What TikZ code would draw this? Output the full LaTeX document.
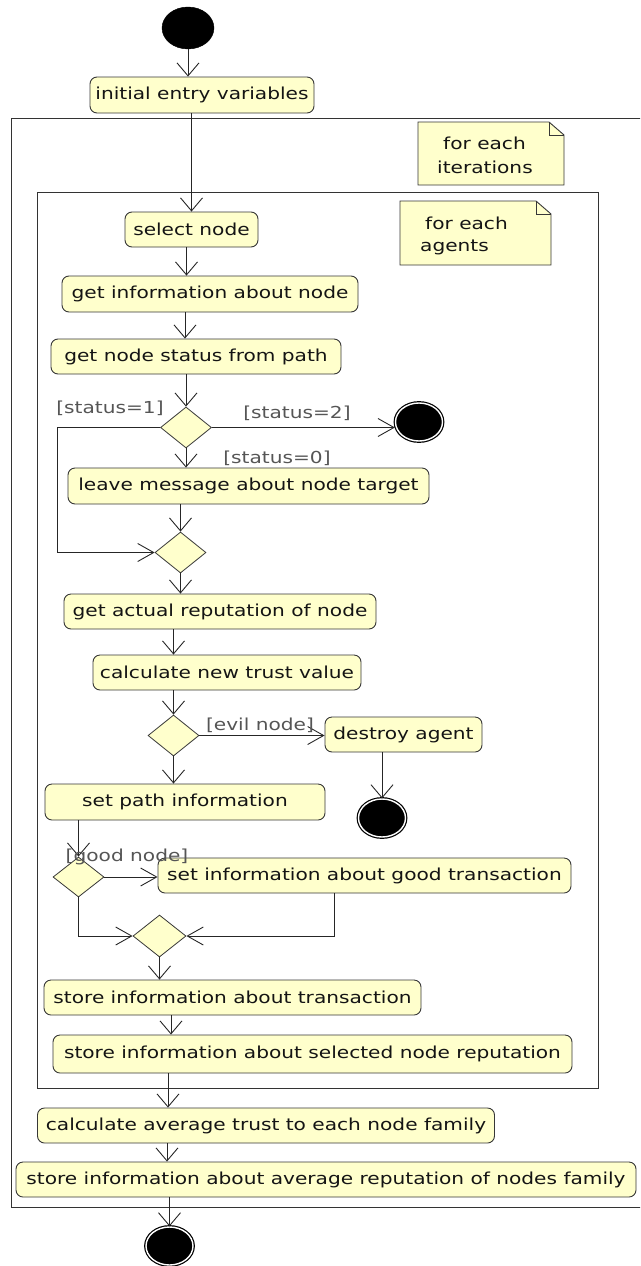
\documentclass[tikz,border=0pt]{standalone}
\usepackage{fontspec}
\setmainfont{DejaVu Sans}
\usetikzlibrary{arrows.meta,shapes.geometric,calc}
\definecolor{boxfill}{RGB}{255,255,204}
\definecolor{boxline}{RGB}{55,55,55}
\definecolor{guard}{RGB}{85,85,85}
\newcommand{\wtxt}[1]{\scalebox{1.22}[1]{#1}}
\begin{document}
\begin{tikzpicture}[x=1pt,y=-1pt,
  font=\fontsize{16.5}{20}\selectfont,
  act/.style={draw=boxline, fill=boxfill, rounded corners=7pt, line width=0.9pt, inner sep=0pt, text=black!92},
  dec/.style={diamond, draw=boxline, fill=boxfill, line width=0.8pt, inner sep=0pt, minimum width=51pt, minimum height=41pt},
  initnode/.style={ellipse, fill=black, draw=black, inner sep=0pt, minimum width=52pt, minimum height=42pt},
  finalnode/.style={ellipse, fill=black, draw=black, double=white, double distance=1.4pt, line width=1.2pt, inner sep=0pt, minimum width=47pt, minimum height=38pt},
  va/.style={draw=black!85, line width=0.9pt, -{Straight Barb[length=13pt,width=22pt]}},
  ha/.style={draw=black!85, line width=0.9pt, -{Straight Barb[length=16pt,width=18pt]}},
  guardlbl/.style={text=guard, inner sep=0pt},
  notetxt/.style={anchor=west, inner sep=0pt, text=black!92},
  frame/.style={draw=black!80, line width=1pt},
  note/.style={draw=boxline, fill=boxfill, line width=0.9pt}
]
\useasboundingbox (0,0) rectangle (640,1266);
\clip (0,0) rectangle (640,1266);

% frames
\draw[frame] (11.5,118) rectangle (700,1207);
\draw[frame] (37.5,192) rectangle (598,1088);

% notes
\draw[note] (418,122) -- (549,122) -- (564,135) -- (564,185) -- (418,185) -- cycle;
\draw[note, fill=none] (549,122) -- (549,135) -- (564,135);
\node[notetxt] (n1a) at (443,143) {\wtxt{for each}};
\node[notetxt] (n1b) at (437,167) {\wtxt{iterations}};
\draw[note] (400,201) -- (536,201) -- (551,214) -- (551,265) -- (400,265) -- cycle;
\draw[note, fill=none] (536,201) -- (536,214) -- (551,214);
\node[notetxt] (n2a) at (425,223) {\wtxt{for each}};
\node[notetxt] (n2b) at (420,247) {\wtxt{agents}};

% nodes
\node[initnode] (start) at (188,28) {};
\node[act, minimum width=224pt, minimum height=36pt] (init) at (202,95) {\wtxt{initial entry variables}};
\node[act, minimum width=133pt, minimum height=35pt] (B) at (191.5,229.5) {\wtxt{select node}};
\node[act, minimum width=296pt, minimum height=36pt] (C) at (210,294) {\wtxt{get information about node}};
\node[act, minimum width=290pt, minimum height=35pt] (D) at (196,356.5) {\wtxt{get node status from path}};
\node[dec] (Dec1) at (186,427.5) {};
\node[finalnode] (End1) at (419,422) {};
\node[act, minimum width=361pt, minimum height=36pt] (E) at (248.5,486) {\wtxt{leave message about node target}};
\node[dec] (Dec2) at (180.5,552.5) {};
\node[act, minimum width=312pt, minimum height=35pt] (F) at (220,611.5) {\wtxt{get actual reputation of node}};
\node[act, minimum width=268pt, minimum height=35pt] (G) at (227,672.5) {\wtxt{calculate new trust value}};
\node[dec] (Dec3) at (173.5,735.5) {};
\node[act, minimum width=157pt, minimum height=35pt] (H) at (403.5,734.5) {\wtxt{destroy agent}};
\node[finalnode] (End2) at (382,818) {};
\node[act, minimum width=280pt, minimum height=36pt] (I) at (185,802) {\wtxt{set path information}};
\node[dec, minimum height=40pt] (Dec4) at (78.5,877) {};
\node[act, minimum width=413pt, minimum height=35pt] (J) at (364.5,875.5) {\wtxt{set information about good transaction}};
\node[dec, minimum width=53pt, minimum height=42pt] (Dec5) at (159.5,936) {};
\node[act, minimum width=377pt, minimum height=35pt] (K) at (232.5,997.5) {\wtxt{store information about transaction}};
\node[act, minimum width=519pt, minimum height=38pt] (L) at (312.5,1054) {\wtxt{store information about selected node reputation}};
\node[act, minimum width=457pt, minimum height=35pt] (M) at (266,1125.5) {\wtxt{calculate average trust to each node family}};
\node[act, minimum width=620pt, minimum height=35pt] (N) at (326,1179.5) {\wtxt{store information about average reputation of nodes family}};
\node[finalnode] (final) at (169.5,1246) {};

% helper coordinates
\coordinate (lp) at (57,424);
\coordinate (bc) at ([xshift=-5pt]B.south);
\coordinate (cd) at ([xshift=-25pt]C.south);
\coordinate (jd) at ([xshift=-30.5pt]J.south);
\coordinate (kl) at ([xshift=-61.5pt]K.south);
\coordinate (lm) at ([xshift=-144.5pt]L.south);
\coordinate (mn) at ([xshift=-99pt]M.south);

% connectors
\draw[va] (start.south) -- (start.south |- init.north);
\draw[va] (B.north |- init.south) -- (B.north);
\draw[va] (bc) -- (bc |- C.north);
\draw[va] (cd) -- (cd |- D.north);
\draw[va] (Dec1.north |- D.south) -- (Dec1.north);
\draw[ha] (Dec1.east) -- (Dec1.east -| End1.west);
\draw[ha] (Dec1.west) -- (Dec1.west -| lp) |- (Dec2.west);
\draw[va] (Dec1.south) -- (Dec1.south |- E.north);
\draw[va] (Dec2.north |- E.south) -- (Dec2.north);
\draw[va] (Dec2.south) -- (Dec2.south |- F.north);
\draw[va] (Dec3.north |- F.south) -- (Dec3.north |- G.north);
\draw[va] (Dec3.north |- G.south) -- (Dec3.north);
\draw[ha] (Dec3.east) -- (Dec3.east -| H.west);
\draw[va] (Dec3.south) -- (Dec3.south |- I.north);
\draw[va] (End2.north |- H.south) -- (End2.north);
\draw[va] (Dec4.north |- I.south) -- (Dec4.north);
\draw[ha] (Dec4.east) -- (Dec4.east -| J.west);
\draw[ha] (Dec4.south) |- (Dec5.west);
\draw[ha] (jd) |- (Dec5.east);
\draw[va] (Dec5.south) -- (Dec5.south |- K.north);
\draw[va] (kl) -- (kl |- L.north);
\draw[va] (lm) -- (lm |- M.north);
\draw[va] (mn) -- (mn |- N.north);
\draw[va] (final.north |- N.south) -- (final.north);

% guards
\node[guardlbl] (g1) at (110,408) {\wtxt{[status=1]}};
\node[guardlbl] (g2) at (297,413) {\wtxt{[status=2]}};
\node[guardlbl] (g0) at (277,458) {\wtxt{[status=0]}};
\node[guardlbl] (gevil) at (260,725) {\wtxt{[evil node]}};
\node[guardlbl] (ggood) at (127,857) {\wtxt{[good node]}};
\end{tikzpicture}
\end{document}
